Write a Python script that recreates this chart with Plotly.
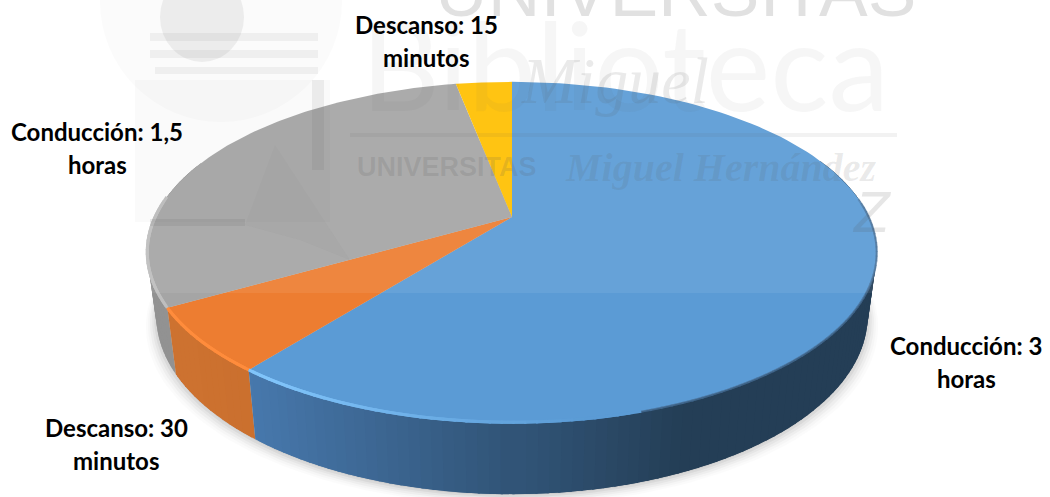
import numpy as np
import plotly.graph_objects as go

# ---- data (hours as entered in the source chart) ----
categories = ["Conducción: 3 horas", "Descanso: 30 minutos", "Conducción: 1,5 horas", "Descanso: 15 minutos"]
hours = [3, 0.30, 1.5, 0.15]
label_lines = [["Conducción: 3", "horas"], ["Descanso: 30", "minutos"],
               ["Conducción: 1,5", "horas"], ["Descanso: 15", "minutos"]]

top_colors = ["#5b9bd5", "#ed7d31", "#a5a5a5", "#ffc000"]
rim_left = [(76, 128, 184), (205, 114, 48), (146, 146, 146), (190, 145, 0)]
rim_right = [(36, 62, 86), (184, 96, 36), (128, 128, 128), (150, 115, 0)]
edge_hi = [(128, 196, 250), (255, 140, 60), (190, 190, 190), (255, 210, 60)]

# ---- projection of the tilted disc ----
CX, CY, RX, RY, K = 512, 217, 357, 163, 0.206


def top_xy(a):
    X, Y = np.sin(a), -np.cos(a)
    w = 1 - K * Y
    return CX + RX * X / w, CY + RY * Y / w


def bot_xy(a):
    X, Y = np.sin(a), -np.cos(a)
    w = 1 - K * Y
    return CX + 0.975 * RX * X / w, CY + 0.97 * RY * Y / w + 62 / w


fig = go.Figure()


def poly(xs, ys, color):
    fig.add_trace(go.Scatter(x=list(xs), y=list(ys), mode="lines", fill="toself", fillcolor=color,
                             line=dict(width=0), hoverinfo="skip", showlegend=False))


total = sum(hours)
angles = np.concatenate([[0], np.cumsum(hours) / total * 2 * np.pi])
full = np.linspace(0, 2 * np.pi, 241)

# soft shadow
for grow, alpha in [(10, .015), (8, .02), (6, .03), (4, .035), (2, .05), (0, .06)]:
    bx, by = bot_xy(full)
    bx = CX + (bx - CX) * (1 + grow / 340)
    by = by + grow + 1
    poly(bx, by, f"rgba(0,0,0,{alpha})")


def shade(i, x):
    t = np.clip((x - 200) / (680 - 200), 0, 1)
    return tuple(int(rim_left[i][c] + (rim_right[i][c] - rim_left[i][c]) * t) for c in range(3))


# rim: one strip per small angle step, overlapping inside each slice so no seams show
strips = []
for i in range(len(hours)):
    n = max(3, int((angles[i + 1] - angles[i]) / np.radians(1.5)))
    e = np.linspace(angles[i], angles[i + 1], n + 1)
    step = e[1] - e[0]
    for j, (a0, a1) in enumerate(zip(e[:-1], e[1:])):
        lo = a0 if j == 0 else a0 - step * 0.6
        hi = a1 if j == n - 1 else a1 + step * 0.6
        strips.append((i, lo, hi))
strips.sort(key=lambda s: -np.cos((s[1] + s[2]) / 2))
for i, a0, a1 in strips:
    am = (a0 + a1) / 2
    if -np.cos(am) < -0.35:
        continue
    seg = np.array([a0, a1])
    tx, ty = top_xy(seg)
    bx, by = bot_xy(seg)
    r, g, b = shade(i, tx.mean())
    poly(np.r_[tx, bx[::-1]], np.r_[ty, by[::-1]], f"rgb({r},{g},{b})")

# top faces
for i in range(len(hours)):
    arc = np.linspace(angles[i], angles[i + 1], 120)
    ax, ay = top_xy(arc)
    poly(np.r_[CX, ax], np.r_[CY, ay], top_colors[i])

# bevel highlight / dark edge on the front rim
for i, a0, a1 in strips:
    am = (a0 + a1) / 2
    if -np.cos(am) < -0.1:
        continue
    seg = np.linspace(a0, a1, 3)
    tx, ty = top_xy(seg)
    t = np.clip((tx.mean() - 280) / 300, 0, 1)
    base = (91, 155, 213) if i == 0 else edge_hi[i]
    c = tuple(int(edge_hi[i][k] * (1 - t) + base[k] * t) for k in range(3))
    if tx.mean() > 640:
        fig.add_trace(go.Scatter(x=tx, y=ty + 0.5, mode="lines", line=dict(width=2, color="rgba(70,110,150,0.5)"),
                                 hoverinfo="skip", showlegend=False))
    else:
        fig.add_trace(go.Scatter(x=tx, y=ty, mode="lines",
                                 line=dict(width=3, color=f"rgb({c[0]},{c[1]},{c[2]})"),
                                 hoverinfo="skip", showlegend=False))

wm = "rgba(90,90,90,{})"
shapes = [
    # lighter upper band of the picture
    dict(type="rect", x0=0, x1=1050, y0=0, y1=293, fillcolor="rgba(255,255,255,0.07)", line_width=0, layer="above"),
    # watermark crest
    dict(type="circle", x0=100, x1=342, y0=-120, y1=122, fillcolor=wm.format(.025), line_width=0, layer="above"),
    dict(type="circle", x0=160, x1=244, y0=-28, y1=62, fillcolor=wm.format(.09), line_width=0, layer="above"),
    dict(type="rect", x0=135, x1=330, y0=80, y1=222, fillcolor=wm.format(.03), line_width=0, layer="above"),
    dict(type="rect", x0=150, x1=318, y0=33, y1=41, fillcolor=wm.format(.07), line_width=0, layer="above"),
    dict(type="rect", x0=150, x1=318, y0=50, y1=58, fillcolor=wm.format(.07), line_width=0, layer="above"),
    dict(type="rect", x0=155, x1=318, y0=67, y1=74, fillcolor=wm.format(.07), line_width=0, layer="above"),
    dict(type="rect", x0=312, x1=324, y0=80, y1=170, fillcolor=wm.format(.09), line_width=0, layer="above"),
    dict(type="rect", x0=150, x1=245, y0=219, y1=226, fillcolor=wm.format(.12), line_width=0, layer="above"),
    dict(type="path", path="M 245 225 L 275 145 L 350 260 L 300 240 Z", fillcolor=wm.format(.04), line_width=0, layer="above"),
    dict(type="rect", x0=350, x1=897, y0=133, y1=137, fillcolor=wm.format(.08), line_width=0, layer="above"),
]

annotations = []


def note(x, y, text, size, color, family="Lato", yanchor="middle"):
    annotations.append(dict(x=x, y=y, text=text, showarrow=False, xanchor="center", yanchor=yanchor,
                            font=dict(family=family, size=size, color=color)))


# watermark text
note(675, 33, "UNIVERSITAS", 73, wm.format(.18), family="Liberation Sans", yanchor="bottom")
note(625, 64, "Biblioteca", 122, wm.format(.055), family="Lato")
note(615, 80, "<i>Miguel</i>", 66, wm.format(.13), family="Liberation Serif")
note(447, 167, "<b>UNIVERSITAS</b>", 27, wm.format(.16), family="Liberation Sans")
note(720, 167, "<b><i>Miguel Hernández</i></b>", 40, wm.format(.13), family="Liberation Serif")
note(872, 211, "<i>Z</i>", 58, wm.format(.15), family="Liberation Sans")

# data labels
label_pos = [(966, 345), (116, 427), (97, 131), (426, 24)]
for lines, (x, y) in zip(label_lines, label_pos):
    for j, line in enumerate(lines):
        note(x, y + j * 33, f"<b>{line}</b>", 24, "#000000")

fig.update_layout(
    width=1050, height=497, margin=dict(l=0, r=0, t=0, b=0),
    paper_bgcolor="#ffffff", plot_bgcolor="#ffffff", showlegend=False,
    xaxis=dict(range=[0, 1050], visible=False, fixedrange=True),
    yaxis=dict(range=[497, 0], visible=False, fixedrange=True),
    shapes=shapes, annotations=annotations,
)
fig.write_html("out.html", config={"displayModeBar": False},
               post_script="document.body.style.margin='0';document.body.style.overflow='hidden';")
